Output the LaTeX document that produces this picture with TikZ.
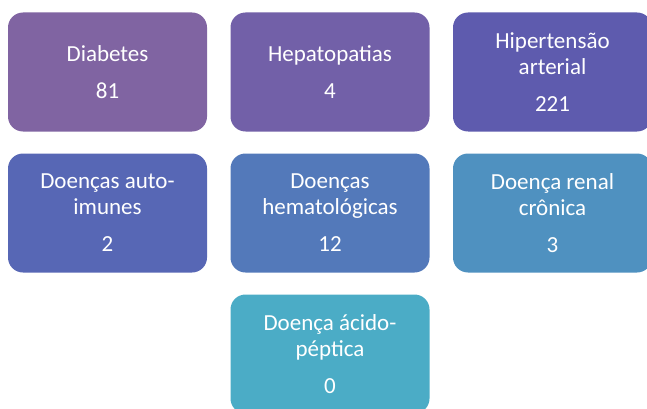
\documentclass[tikz,border=0pt]{standalone}
\usepackage{fontspec}
\setmainfont{Carlito}
\definecolor{diabfill}{RGB}{128,100,162}
\definecolor{hepatfill}{RGB}{114,96,168}
\definecolor{hiperfill}{RGB}{94,91,174}
\definecolor{autoimfill}{RGB}{87,103,181}
\definecolor{hematfill}{RGB}{83,121,186}
\definecolor{renalfill}{RGB}{79,145,192}
\definecolor{acidofill}{RGB}{75,172,198}

\begin{document}
\begin{tikzpicture}[x=1pt, y=-1pt, box/.style={rounded corners=15pt, minimum width=199pt, minimum height=119pt, text width=190pt, inner sep=0pt, align=flush center, text=white, font=\fontsize{23}{26}\selectfont}]
            \clip (0,0) rectangle (647,409);
            \node[box, fill=diabfill] (diab) at (107.5,72) {Diabetes\\[11pt]81};
            \node[box, fill=hepatfill] (hepat) at (330,72) {Hepatopatias\\[11pt]4};
            \node[box, fill=hiperfill] (hiper) at (552.5,72) {Hipertensão\\arterial\\[11pt]221};
            \node[box, fill=autoimfill] (autoim) at (107.5,213) {Doenças auto-\\imunes\\[11pt]2};
            \node[box, fill=hematfill] (hemat) at (330,213) {Doenças\\hematológicas\\[11pt]12};
            \node[box, fill=renalfill] (renal) at (552.5,213) {Doença renal\\crônica\\[11pt]3};
            \node[box, fill=acidofill] (acido) at (330,354) {Doença ácido-\\péptica\\[11pt]0};
        \end{tikzpicture}
\end{document}
